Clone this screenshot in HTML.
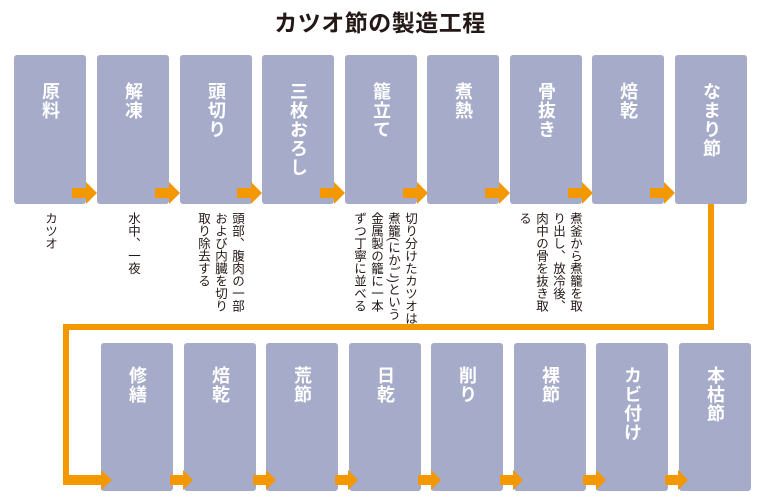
<!DOCTYPE html>
<html><head><meta charset="utf-8"><style>
body{margin:0;width:760px;height:500px;background:#fff;position:relative;overflow:hidden;font-family:"Liberation Sans","Noto Sans CJK JP",sans-serif}
.t{position:absolute;left:0;width:760px;top:4px;text-align:center;font-size:23px;font-weight:bold;color:#231815;letter-spacing:0.5px}
.b{position:absolute;width:72px;background:#a5abc8;border-radius:3px}
.l{position:absolute;writing-mode:vertical-rl;color:#fff;font-weight:bold;font-size:18px;line-height:20px;width:20px;letter-spacing:1px}
.d{position:absolute;writing-mode:vertical-rl;color:#231815;font-size:12.5px;line-height:17px;top:212px;white-space:nowrap}
svg{position:absolute;left:0;top:0}
</style></head><body>
<div class="t">カツオ節の製造工程</div>

<div class="b" style="left:14px;top:55px;height:149px"></div>
<div class="b" style="left:97px;top:55px;height:149px"></div>
<div class="b" style="left:180px;top:55px;height:149px"></div>
<div class="b" style="left:262px;top:55px;height:149px"></div>
<div class="b" style="left:345px;top:55px;height:149px"></div>
<div class="b" style="left:427px;top:55px;height:149px"></div>
<div class="b" style="left:510px;top:55px;height:149px"></div>
<div class="b" style="left:592px;top:55px;height:149px"></div>
<div class="b" style="left:675px;top:55px;height:149px"></div>

<div class="l" style="left:40px;top:82px">原料</div>
<div class="l" style="left:123px;top:82px">解凍</div>
<div class="l" style="left:206px;top:82px">頭切り</div>
<div class="l" style="left:288px;top:82px">三枚おろし</div>
<div class="l" style="left:371px;top:82px">籠立て</div>
<div class="l" style="left:453px;top:82px">煮熱</div>
<div class="l" style="left:536px;top:82px">骨抜き</div>
<div class="l" style="left:618px;top:82px">焙乾</div>
<div class="l" style="left:701px;top:82px">なまり節</div>

<div class="b" style="left:101px;top:343px;height:148px"></div>
<div class="b" style="left:184px;top:343px;height:148px"></div>
<div class="b" style="left:266px;top:343px;height:148px"></div>
<div class="b" style="left:349px;top:343px;height:148px"></div>
<div class="b" style="left:431px;top:343px;height:148px"></div>
<div class="b" style="left:514px;top:343px;height:148px"></div>
<div class="b" style="left:596px;top:343px;height:148px"></div>
<div class="b" style="left:679px;top:343px;height:148px"></div>

<div class="l" style="left:127px;top:366px">修繕</div>
<div class="l" style="left:210px;top:366px">焙乾</div>
<div class="l" style="left:292px;top:366px">荒節</div>
<div class="l" style="left:375px;top:366px">日乾</div>
<div class="l" style="left:457px;top:366px">削り</div>
<div class="l" style="left:540px;top:366px">裸節</div>
<div class="l" style="left:622px;top:366px">カビ付け</div>
<div class="l" style="left:705px;top:366px">本枯節</div>

<div class="d" style="left:41px">カツオ</div>
<div class="d" style="left:124px">水中、一夜</div>
<div class="d" style="left:194px">頭部、腹肉の一部<br>および内臓を切り<br>取り除去する</div>
<div class="d" style="left:350px">切り分けたカツオは<br>煮籠(にかご)という<br>金属製の籠に一本<br>ずつ丁寧に並べる</div>
<div class="d" style="left:515px">煮釜から煮籠を取<br>り出し、放冷後、<br>肉中の骨を抜き取<br>る</div>

<svg width="760" height="500">
<g fill="#f39800">
<path d="M72 188h14v-6l11 11-11 11v-6h-14z"/>
<path d="M155 188h14v-6l11 11-11 11v-6h-14z"/>
<path d="M237 188h14v-6l11 11-11 11v-6h-14z"/>
<path d="M320 188h14v-6l11 11-11 11v-6h-14z"/>
<path d="M403 188h14v-6l11 11-11 11v-6h-14z"/>
<path d="M485 188h14v-6l11 11-11 11v-6h-14z"/>
<path d="M568 188h14v-6l11 11-11 11v-6h-14z"/>
<path d="M650 188h14v-6l11 11-11 11v-6h-14z"/>
<path d="M170 475h13v-5l10 10-10 10v-5h-13z"/>
<path d="M253 475h13v-5l10 10-10 10v-5h-13z"/>
<path d="M335 475h13v-5l10 10-10 10v-5h-13z"/>
<path d="M418 475h13v-5l10 10-10 10v-5h-13z"/>
<path d="M500 475h13v-5l10 10-10 10v-5h-13z"/>
<path d="M583 475h13v-5l10 10-10 10v-5h-13z"/>
<path d="M665 475h13v-5l10 10-10 10v-5h-13z"/>
<path d="M708 204h6v126h-645v145h32v-5l11 10-11 10v-5h-38v-161h645z"/>
</g>
</svg>
</body></html>
